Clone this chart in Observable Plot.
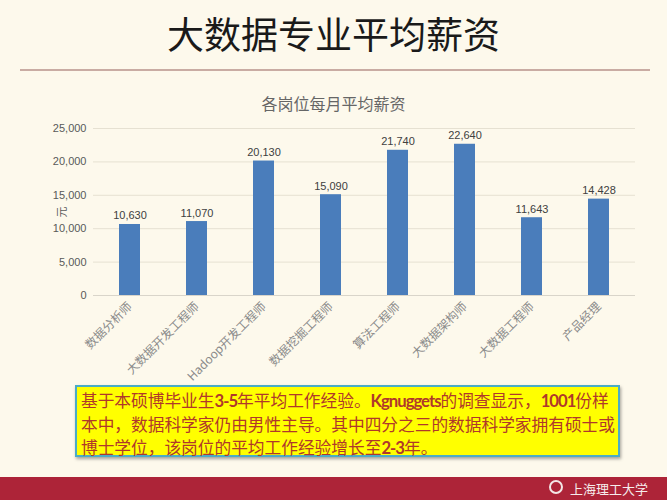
<!DOCTYPE html>
<html><head><meta charset="utf-8">
<script src="https://cdn.jsdelivr.net/npm/d3@7"></script>
<script src="https://cdn.jsdelivr.net/npm/@observablehq/plot@0.6"></script>
<style>
html,body{margin:0;padding:0;background:#fdf9ec;}
#page{position:relative;width:667px;height:500px;overflow:hidden;background:#fdf9ec;font-family:"Noto Sans CJK SC",sans-serif;}
#title{position:absolute;left:0;top:8px;width:667px;text-align:center;font-size:37px;line-height:50px;color:#1a1a1a;}
#rule{position:absolute;left:20px;top:69px;width:630px;height:2px;background:#c9aca3;}
#chart{position:absolute;left:0;top:85px;}
#ctitle{position:absolute;left:0;top:92px;width:667px;text-align:center;font-size:16px;line-height:22px;color:#666;}
#note{position:absolute;left:75px;top:385px;width:545px;height:72px;background:#ffff00;border:2px solid #4bacc6;box-shadow:1px 2px 3px rgba(0,0,0,0.35);padding:2px 0 0 4px;box-sizing:border-box;font-size:16.7px;line-height:23px;color:#b0382a;white-space:nowrap;}
#note b{font-family:Lato,"Open Sans",sans-serif;font-weight:bold;letter-spacing:-1px;}
#footer{position:absolute;left:0;top:477px;width:667px;height:23px;background:#ad2438;}
#emblem{position:absolute;left:549px;top:3px;width:14px;height:14px;border:2px solid #f3e6e6;border-radius:50%;box-sizing:border-box;}
#logo{position:absolute;left:570px;top:0;line-height:23px;font-size:13px;color:#f6ecec;}
</style></head>
<body><div id="page">
<div id="title">大数据专业平均薪资</div>
<div id="rule"></div>
<div id="chart"></div>
<div id="ctitle"></div>
<div id="note">基于本硕博毕业生<b>3-5</b>年平均工作经验。<b>Kgnuggets</b>的调查显示，<b>1001</b>份样<br>本中，数据科学家仍由男性主导。其中四分之三的数据科学家拥有硕士或<br>博士学位，该岗位的平均工作经验增长至<b>2-3</b>年。</div>
<div id="footer"><div id="emblem"></div><div id="logo">上海理工大学</div></div>
</div>
<script>
const chartTitle = "各岗位每月平均薪资";
const jobs = ["数据分析师","大数据开发工程师","Hadoop开发工程师","数据挖掘工程师","算法工程师","大数据架构师","大数据工程师","产品经理"];
const salaries = [10630,11070,20130,15090,21740,22640,11643,14428];
const yTicks = [0,5000,10000,15000,20000,25000];
const yLabel = "元";
const data = jobs.map((j,i)=>({job:j, salary:salaries[i]}));
const fmt = d3.format(",");
document.getElementById("ctitle").textContent = chartTitle;
const chart = Plot.plot({
  width:667, height:300, marginTop:43, marginBottom:90, marginLeft:93, marginRight:32,
  style:{background:"transparent", fontFamily:"'Liberation Sans','Noto Sans CJK SC',sans-serif", fontSize:"11px"},
  x:{domain:jobs, paddingInner:0.69, paddingOuter:0.345, label:null},
  y:{domain:[0,25000], label:null},
  marks:[
    Plot.gridY(yTicks,{stroke:"#e6e1d2", strokeOpacity:1}),
    Plot.ruleY([0],{stroke:"#d9d5ca"}),
    Plot.barY(data,{x:"job", y:"salary", fill:"#4a7dbb"}),
    Plot.text(data,{x:"job", y:"salary", text:d=>fmt(d.salary), lineAnchor:"bottom", dy:-5, fontSize:11, fill:"#404040"}),
    Plot.axisY({ticks:yTicks, tickSize:0, tickPadding:7, tickFormat:fmt, fontSize:11, color:"#595959", label:yLabel, labelAnchor:"center", labelOffset:35, labelArrow:"none"}),
    Plot.axisX({tickSize:0, tickRotate:-45, tickPadding:9, fontSize:12, color:"#8a8a8a", label:null, fontFamily:"'Noto Sans CJK SC',sans-serif"})
  ]
});
document.getElementById("chart").appendChild(chart);
</script>
</body></html>
